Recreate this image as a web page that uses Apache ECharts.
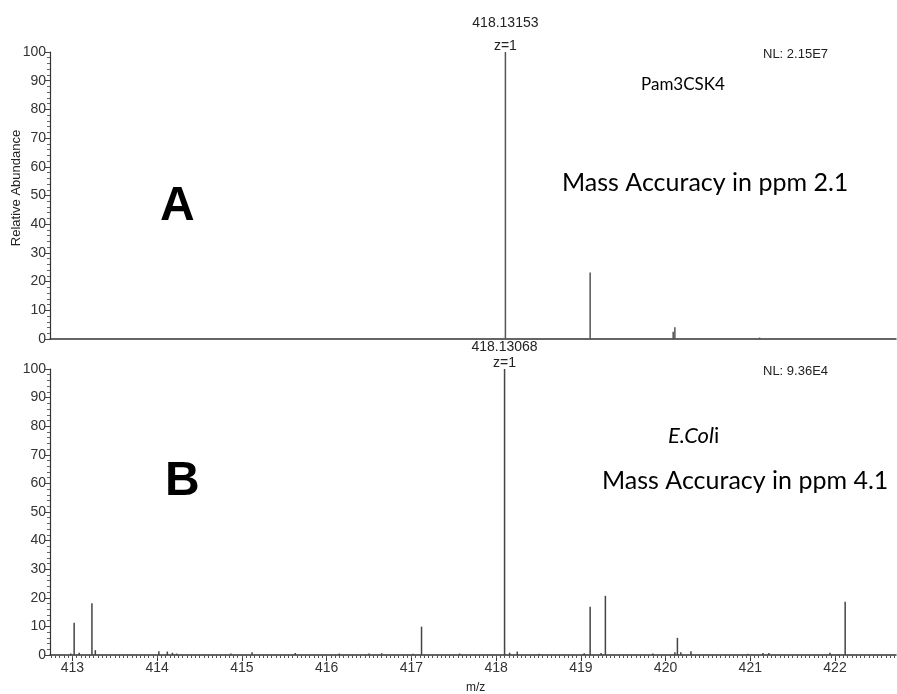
<!DOCTYPE html>
<html>
<head>
<meta charset="utf-8">
<script src="https://cdn.jsdelivr.net/npm/echarts@6/dist/echarts.min.js"></script>
<style>
html,body{margin:0;padding:0;background:#fff;}
#chart{width:897px;height:694px;}
</style>
</head>
<body>
<div id="chart"></div>
<script>
// ---- data ----
var xTickLabels = [413, 414, 415, 416, 417, 418, 419, 420, 421, 422];
var yTickLabels = [0, 10, 20, 30, 40, 50, 60, 70, 80, 90, 100];

// Panel A (Pam3CSK4)
var topMz = [418.11, 419.11, 420.09, 420.11, 421.11];
var topAb = [100, 23.2, 2.5, 4.1, 0.5];

// Panel B (E.Coli)
var botMz = [412.98, 413.02, 413.08, 413.23, 413.27, 414.02, 414.12, 414.18, 414.23, 414.87,
             415.12, 415.63, 416.15, 416.50, 416.65, 417.02, 417.12, 417.57, 418.10, 418.16,
             418.25, 418.51, 419.04, 419.11, 419.24, 419.29, 419.85, 420.11, 420.14, 420.18,
             420.30, 420.97, 421.15, 421.22, 421.94, 422.04, 422.12];
var botAb = [0.5, 11.3, 0.8, 18.1, 1.7, 1.3, 1.2, 0.8, 0.5, 0.5,
             1.0, 0.7, 0.5, 0.5, 0.6, 0.4, 9.9, 0.5, 100, 0.8,
             1.2, 0.4, 0.6, 16.9, 0.7, 20.7, 0.5, 1.0, 6.0, 1.0,
             1.3, 0.4, 0.7, 0.7, 0.8, 0.3, 18.6];

var topPeakLabel = '418.13153\nz=1';
var botPeakLabel = '418.13068\nz=1';
var xMin = 412.735, xMax = 422.72;

// ---- build ----
var minorXTicks = [];
for (var t = 412.75; t <= 422.72; t += 0.05) minorXTicks.push(Math.round(t * 100) / 100);

var fontA = 'Liberation Sans, Arial, sans-serif';

function buildData(mz, ab, labelText, lineH, dist) {
  var maxI = ab.indexOf(Math.max.apply(null, ab));
  return mz.map(function (m, i) {
    var item = { value: [m, ab[i]] };
    if (i === maxI) {
      item.label = {
        show: true, position: 'top', distance: dist,
        formatter: labelText, fontFamily: fontA,
        fontSize: 14, lineHeight: lineH, color: '#222', align: 'center'
      };
    }
    return item;
  });
}

var yAxisCommon = {
  type: 'value', min: 0, max: 100, interval: 10,
  axisLine: { show: true, lineStyle: { color: '#333', width: 1.2 } },
  axisTick: { show: true, length: 5, lineStyle: { color: '#444' } },
  minorTick: { show: true, splitNumber: 5, length: 3, lineStyle: { color: '#666' } },
  axisLabel: { fontFamily: fontA, fontSize: 14, color: '#333', margin: 4 },
  splitLine: { show: false }
};

var chart = echarts.init(document.getElementById('chart'));
chart.setOption({
  animation: false,
  backgroundColor: '#fff',
  grid: [
    { left: 50, top: 52, width: 846, height: 287 },
    { left: 50, top: 369, width: 846, height: 286 }
  ],
  xAxis: [
    { gridIndex: 0, type: 'value', min: xMin, max: xMax, position: 'bottom',
      axisLine: { show: true, onZero: false, lineStyle: { color: '#333', width: 1.5 } },
      axisTick: { show: false }, axisLabel: { show: false }, splitLine: { show: false } },
    { gridIndex: 1, type: 'value', min: xMin, max: xMax, position: 'bottom',
      axisLine: { show: true, onZero: false, lineStyle: { color: '#333', width: 1.5 } },
      axisTick: { show: true, length: 6, customValues: xTickLabels, lineStyle: { color: '#333' } },
      axisLabel: { show: true, customValues: xTickLabels, fontFamily: fontA, fontSize: 14, color: '#333', margin: 6 },
      splitLine: { show: false } },
    { gridIndex: 1, type: 'value', min: xMin, max: xMax, position: 'bottom', offset: 0,
      axisLine: { show: false, onZero: false },
      axisTick: { show: true, length: 3, customValues: minorXTicks, lineStyle: { color: '#555' } },
      axisLabel: { show: false }, splitLine: { show: false } }
  ],
  yAxis: [
    Object.assign({ gridIndex: 0 }, yAxisCommon),
    Object.assign({ gridIndex: 1 }, yAxisCommon)
  ],
  series: [
    { type: 'bar', xAxisIndex: 0, yAxisIndex: 0, barWidth: 1.5,
      itemStyle: { color: '#555' }, data: buildData(topMz, topAb, topPeakLabel, 23, -6) },
    { type: 'bar', xAxisIndex: 1, yAxisIndex: 1, barWidth: 1.5,
      itemStyle: { color: '#444' }, data: buildData(botMz, botAb, botPeakLabel, 16, -2) }
  ],
  graphic: [
    { type: 'text', left: 160, top: 183, style: { text: 'A', font: 'bold 48px Liberation Sans, Arial, sans-serif', fill: '#000' } },
    { type: 'text', left: 165, top: 458, style: { text: 'B', font: 'bold 48px Liberation Sans, Arial, sans-serif', fill: '#000' } },
    { type: 'text', left: 641, top: 76, style: { text: 'Pam3CSK4', font: '17px Lato, sans-serif', fill: '#000' } },
    { type: 'text', left: 562, top: 170, style: { text: 'Mass Accuracy in ppm 2.1', font: '25px Lato, sans-serif', fill: '#000' } },
    { type: 'text', left: 668, top: 425, style: {
        text: '{i|E.Col}{n|i}',
        rich: { i: { font: 'italic 22px Lato, sans-serif', fill: '#000' }, n: { font: '22px Lato, sans-serif', fill: '#000' } } } },
    { type: 'text', left: 602, top: 468, style: { text: 'Mass Accuracy in ppm 4.1', font: '25px Lato, sans-serif', fill: '#000' } },
    { type: 'text', left: 763, top: 48, style: { text: 'NL: 2.15E7', font: '13px Liberation Sans, Arial, sans-serif', fill: '#222' } },
    { type: 'text', left: 763, top: 365, style: { text: 'NL: 9.36E4', font: '13px Liberation Sans, Arial, sans-serif', fill: '#222' } },
    { type: 'text', left: 466, top: 682, style: { text: 'm/z', font: '12px Liberation Sans, Arial, sans-serif', fill: '#222' } },
    { type: 'text', x: 16, y: 188, rotation: Math.PI / 2,
      style: { text: 'Relative Abundance', font: '13px Liberation Sans, Arial, sans-serif', fill: '#222', align: 'center', verticalAlign: 'middle' } }
  ]
});
</script>
</body>
</html>
